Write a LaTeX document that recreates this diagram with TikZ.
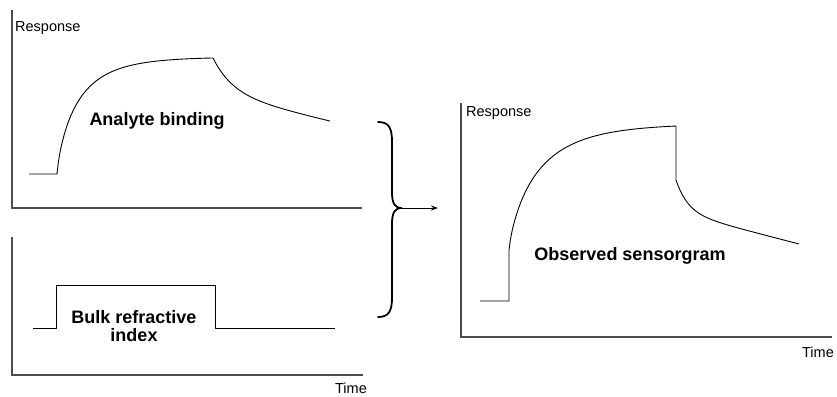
\documentclass[tikz,border=0pt]{standalone}
\usepackage{fontspec}
\setmainfont{Liberation Sans}
\usetikzlibrary{arrows.meta}
\begin{document}
\begin{tikzpicture}[x=1pt,y=-1pt,
  axis/.style={draw=black!70,line width=1.1pt},
  curve/.style={draw=black,line width=0.9pt,line join=round},
  small/.style={font=\fontsize{14.5}{16}\selectfont,inner sep=0pt},
  big/.style={font=\fontsize{18}{18}\selectfont\bfseries,inner sep=0pt,align=center},
  bracestyle/.style={draw=black,line width=1.8pt,line cap=round},
  arr/.style={draw=black,line width=1pt,-{Stealth[length=7pt,width=5pt]}}]
\useasboundingbox (0,0) rectangle (837,396);
% top-left plot
\draw[axis] (12,10) -- (12,208) -- (362,208);
\node[small,anchor=west] (resp1) at (15,28) {Response};
\draw[curve] (29,174) -- (57,174)
  -- plot[domain=57.001:213,samples=120] (\x,{174-117*(1-exp(-((\x-57)/22)^0.8))})
  -- plot[domain=213:330,samples=70] (\x,{58+35.2*(1-exp(-(\x-213)/20))+0.239*(\x-213)});
\node[big] (analyte) at (157,121) {Analyte binding};
% bottom-left plot
\draw[axis] (12,237) -- (12,375) -- (363,375);
\draw[curve] (33,328) -- (56,328) -- (56,285) -- (215,285) -- (215,328) -- (335,328);
\node[big] (bulk) at (134,326) {Bulk refractive\\index};
\node[small] (time1) at (351,388) {Time};
% brace and arrow
\draw[bracestyle] (378,122) .. controls (389,122) and (392,128) .. (392,142) -- (392,192) .. controls (392,204) and (395,208) .. (402,208) .. controls (395,208) and (392,212) .. (392,224) -- (392,297) .. controls (392,311) and (389,317) .. (378,317);
\coordinate (bracetip) at (401,208);
\coordinate (arrowend) at (438,208);
\draw[arr] (bracetip) -- (arrowend);
% right plot
\draw[axis] (461,103) -- (461,337) -- (832,337);
\node[small,anchor=west] (resp2) at (466,113) {Response};
\node[small] (time2) at (818,352) {Time};
\draw[curve] (480,301) -- (509,301) -- (509,250)
  -- plot[domain=509.001:676,samples=120] (\x,{250-126.4*(1-exp(-((\x-509)/30)^0.8))})
  -- (676,126) -- (676,180)
  -- plot[domain=676:799,samples=70] (\x,{180+32*(1-exp(-(\x-676)/12))+0.26*(\x-676)});
\node[big] (observed) at (630,256) {Observed sensorgram};
\end{tikzpicture}
\end{document}
